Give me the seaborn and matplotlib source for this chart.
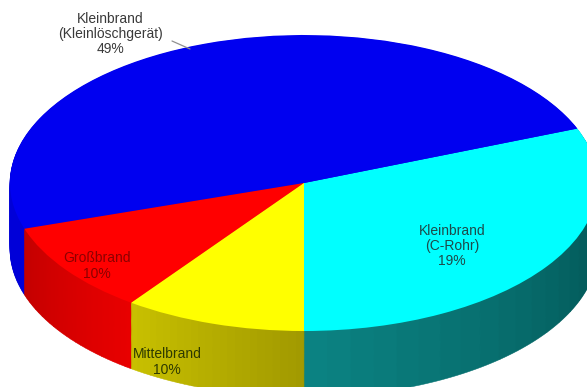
#!/usr/bin/env python3
# -*- coding: utf-8 -*-
"""3D-style pie of fire categories (Kleinbrand / Großbrand / Mittelbrand)."""

import numpy as np
import matplotlib
matplotlib.use("Agg")
import matplotlib.pyplot as plt
import matplotlib.colors as mcolors
import seaborn as sns

# --- data -------------------------------------------------------------------
categories = ["Kleinbrand (C-Rohr)", "Kleinbrand (Kleinlöschgerät)",
              "Großbrand", "Mittelbrand"]
shares = [31, 49, 10, 10]
label_texts = ["Kleinbrand\n(C-Rohr)\n19%",
               "Kleinbrand\n(Kleinlöschgerät)\n49%",
               "Großbrand\n10%",
               "Mittelbrand\n10%"]

# --- style ------------------------------------------------------------------
top_colors = ["#00ffff", "#0000f0", "#ff0000", "#ffff00"]
# side wall shading (start, end) going counter-clockwise from the front
side_shades = [("#0b8282", "#004a4a"), ("#0000d8", "#0000d8"),
               ("#c40000", "#e80000"), ("#c8c000", "#a29a00")]
label_colors = ["#1e4a4a", "#3a3a3a", "#8c0000", "#2e3a00"]
# label centres in pixel coords (x from left, y from top)
label_pos = [(452, 246), (110, 34), (97, 266), (167, 362)]

W, H = 587, 387
CX, CY, RX, RY = 304, 183, 294, 148   # ellipse of the top face (pixels)
DEPTH = 66                             # side wall height (pixels)
N_SHADE = 24                           # sub-wedges per slice for shading


def px_to_data(px, py):
    return (px - CX) / RX, (CY - py) / RY


def shaded_sides():
    """Split each share into sub-wedges with a colour ramp for the walls."""
    sizes, cols = [], []
    for share, (c0, c1) in zip(shares, side_shades):
        a, b = np.array(mcolors.to_rgb(c0)), np.array(mcolors.to_rgb(c1))
        for t in np.linspace(0, 1, N_SHADE):
            sizes.append(share / N_SHADE)
            cols.append(tuple(a + (b - a) * t))
    return sizes, cols


def main():
    sns.set_theme(style="white")
    plt.rcParams["font.family"] = ["Liberation Sans", "DejaVu Sans"]

    fig = plt.figure(figsize=(W / 100, H / 100), dpi=100)
    ax = fig.add_axes([0, 0, 1, 1])

    side_sizes, side_cols = shaded_sides()
    depth = DEPTH / RY
    n_layers = 70
    # side walls: stacked darker pies
    for i in range(n_layers, 0, -1):
        dy = -depth * i / n_layers
        wedges, _ = ax.pie(side_sizes, colors=side_cols, startangle=-90,
                           counterclock=True, center=(0, dy), radius=1.0,
                           wedgeprops=dict(linewidth=0.4))
        for w in wedges:
            w.set_edgecolor(w.get_facecolor())
    # top face
    ax.pie(shares, colors=top_colors, startangle=-90, counterclock=True,
           center=(0, 0), radius=1.0,
           wedgeprops=dict(linewidth=0, antialiased=True))

    ax.set_aspect("auto")
    x0, _ = px_to_data(0, 0)
    x1, _ = px_to_data(W, 0)
    _, y0 = px_to_data(0, H)
    _, y1 = px_to_data(0, 0)
    ax.set_xlim(x0, x1)
    ax.set_ylim(y0, y1)
    ax.axis("off")

    for txt, (px, py), col in zip(label_texts, label_pos, label_colors):
        x, y = px_to_data(px, py)
        ax.text(x, y, txt, ha="center", va="center", fontsize=10,
                color=col, linespacing=1.1)

    # leader line for the top label
    lx0, ly0 = px_to_data(172, 41)
    lx1, ly1 = px_to_data(190, 49)
    ax.plot([lx0, lx1], [ly0, ly1], color="#909090", lw=0.9)

    fig.savefig("out.png", dpi=100)
    plt.close(fig)


if __name__ == "__main__":
    main()
